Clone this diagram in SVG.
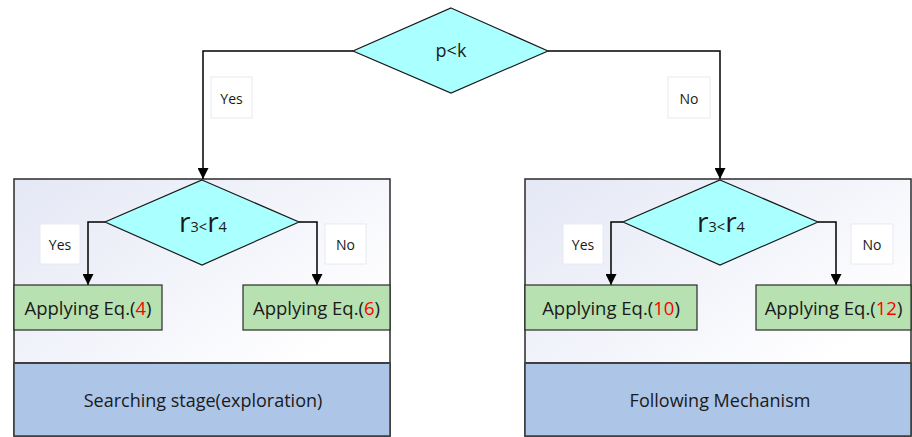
<svg xmlns="http://www.w3.org/2000/svg" width="912" height="437" viewBox="0 0 912 437">
  <defs>
    <linearGradient id="panelFill" x1="0" y1="0" x2="1" y2="1">
      <stop offset="0" stop-color="#e4e7f5"/>
      <stop offset="0.75" stop-color="#ffffff"/>
    </linearGradient>
    <marker id="arrow" viewBox="0 0 10 11" refX="11" refY="5.5" markerWidth="10" markerHeight="11" markerUnits="userSpaceOnUse" orient="auto">
      <path d="M0,0 L11,5.5 L0,11 Z" fill="#000"/>
    </marker>
    <style>
      .panel { fill: url(#panelFill); stroke: #2b2b2b; stroke-width: 1.5; }
      .stage { fill: #adc5e7; stroke: #3a3a3a; stroke-width: 1.5; }
      .divider { stroke: #3f3f3f; stroke-width: 2; }
      .decision { fill: #aaffff; stroke: #1a1a1a; stroke-width: 1.2; }
      .action { fill: #b7e1b0; stroke: #2b2b2b; stroke-width: 1.2; }
      .tag { fill: #ffffff; stroke: #e6eaf2; stroke-width: 1; }
      .link { fill: none; stroke: #000; stroke-width: 1.5; marker-end: url(#arrow); }
      text { font-family: "Open Sans", "Liberation Sans", sans-serif; fill: #1a1a1a; text-anchor: middle; }
      .mid { dominant-baseline: central; }
      .lbl { font-size: 14px; }
      .act { font-size: 18.5px; }
      .stg { font-size: 18px; }
      .pk { font-size: 18px; }
      .cond { font-size: 28px; }
      .sub { font-size: 14.5px; }
      .eq { fill: #ff0000; }
    </style>
  </defs>

  <!-- left panel: searching stage -->
  <g id="panel-search">
    <rect class="panel" x="14" y="179" width="376" height="257"/>
    <rect class="stage" x="14" y="363" width="376" height="73"/>
    <line class="divider" x1="14" y1="363" x2="390" y2="363"/>
    <text class="stg mid" x="203" y="400">Searching stage(exploration)</text>
  </g>

  <!-- right panel: following mechanism -->
  <g id="panel-follow">
    <rect class="panel" x="525" y="179" width="386" height="257"/>
    <rect class="stage" x="525" y="363" width="386" height="73"/>
    <line class="divider" x1="525" y1="363" x2="911" y2="363"/>
    <text class="stg mid" x="720" y="400">Following Mechanism</text>
  </g>

  <!-- connectors -->
  <g id="connectors">
    <polyline class="link" points="353,51 203,51 203,179"/>
    <polyline class="link" points="548,51 720,51 720,179"/>
    <polyline class="link" points="105,222 88,222 88,285"/>
    <polyline class="link" points="299,222 317,222 317,285"/>
    <polyline class="link" points="623,222 611,222 611,285"/>
    <polyline class="link" points="818,222 836,222 836,285"/>
  </g>

  <!-- branch labels -->
  <g id="label-top-yes">
    <rect class="tag" x="211" y="77" width="41" height="41"/>
    <text class="lbl mid" x="231.5" y="98">Yes</text>
  </g>
  <g id="label-top-no">
    <rect class="tag" x="668" y="77" width="42" height="41"/>
    <text class="lbl mid" x="689" y="98">No</text>
  </g>
  <g id="label-left-yes">
    <rect class="tag" x="40" y="224" width="40" height="40"/>
    <text class="lbl mid" x="60" y="244">Yes</text>
  </g>
  <g id="label-left-no">
    <rect class="tag" x="325" y="224" width="41" height="40"/>
    <text class="lbl mid" x="345.5" y="244">No</text>
  </g>
  <g id="label-right-yes">
    <rect class="tag" x="563" y="224" width="40" height="40"/>
    <text class="lbl mid" x="583" y="244">Yes</text>
  </g>
  <g id="label-right-no">
    <rect class="tag" x="851" y="224" width="42" height="40"/>
    <text class="lbl mid" x="872" y="244">No</text>
  </g>

  <!-- decisions -->
  <g id="decision-pk">
    <polygon class="decision" points="451,8 548,51 451,93 353,51"/>
    <text class="pk mid" x="451" y="50">p&lt;k</text>
  </g>
  <g id="decision-left">
    <polygon class="decision" points="202,180 299,222 202,265 105,222"/>
    <text x="203" y="232"><tspan class="cond">r</tspan><tspan class="sub">3&lt;</tspan><tspan class="cond">r</tspan><tspan class="sub">4</tspan></text>
  </g>
  <g id="decision-right">
    <polygon class="decision" points="720,180 818,222 720,265 623,222"/>
    <text x="721" y="232"><tspan class="cond">r</tspan><tspan class="sub">3&lt;</tspan><tspan class="cond">r</tspan><tspan class="sub">4</tspan></text>
  </g>

  <!-- actions -->
  <g id="action-eq4">
    <rect class="action" x="14" y="285" width="148" height="45"/>
    <text class="act mid" x="88" y="307">Applying Eq.(<tspan class="eq">4</tspan>)</text>
  </g>
  <g id="action-eq6">
    <rect class="action" x="243" y="285" width="147" height="45"/>
    <text class="act mid" x="316.5" y="307">Applying Eq.(<tspan class="eq">6</tspan>)</text>
  </g>
  <g id="action-eq10">
    <rect class="action" x="525" y="285" width="172" height="45"/>
    <text class="act mid" x="611" y="307">Applying Eq.(<tspan class="eq">10</tspan>)</text>
  </g>
  <g id="action-eq12">
    <rect class="action" x="756" y="285" width="155" height="45"/>
    <text class="act mid" x="833.5" y="307">Applying Eq.(<tspan class="eq">12</tspan>)</text>
  </g>
</svg>
